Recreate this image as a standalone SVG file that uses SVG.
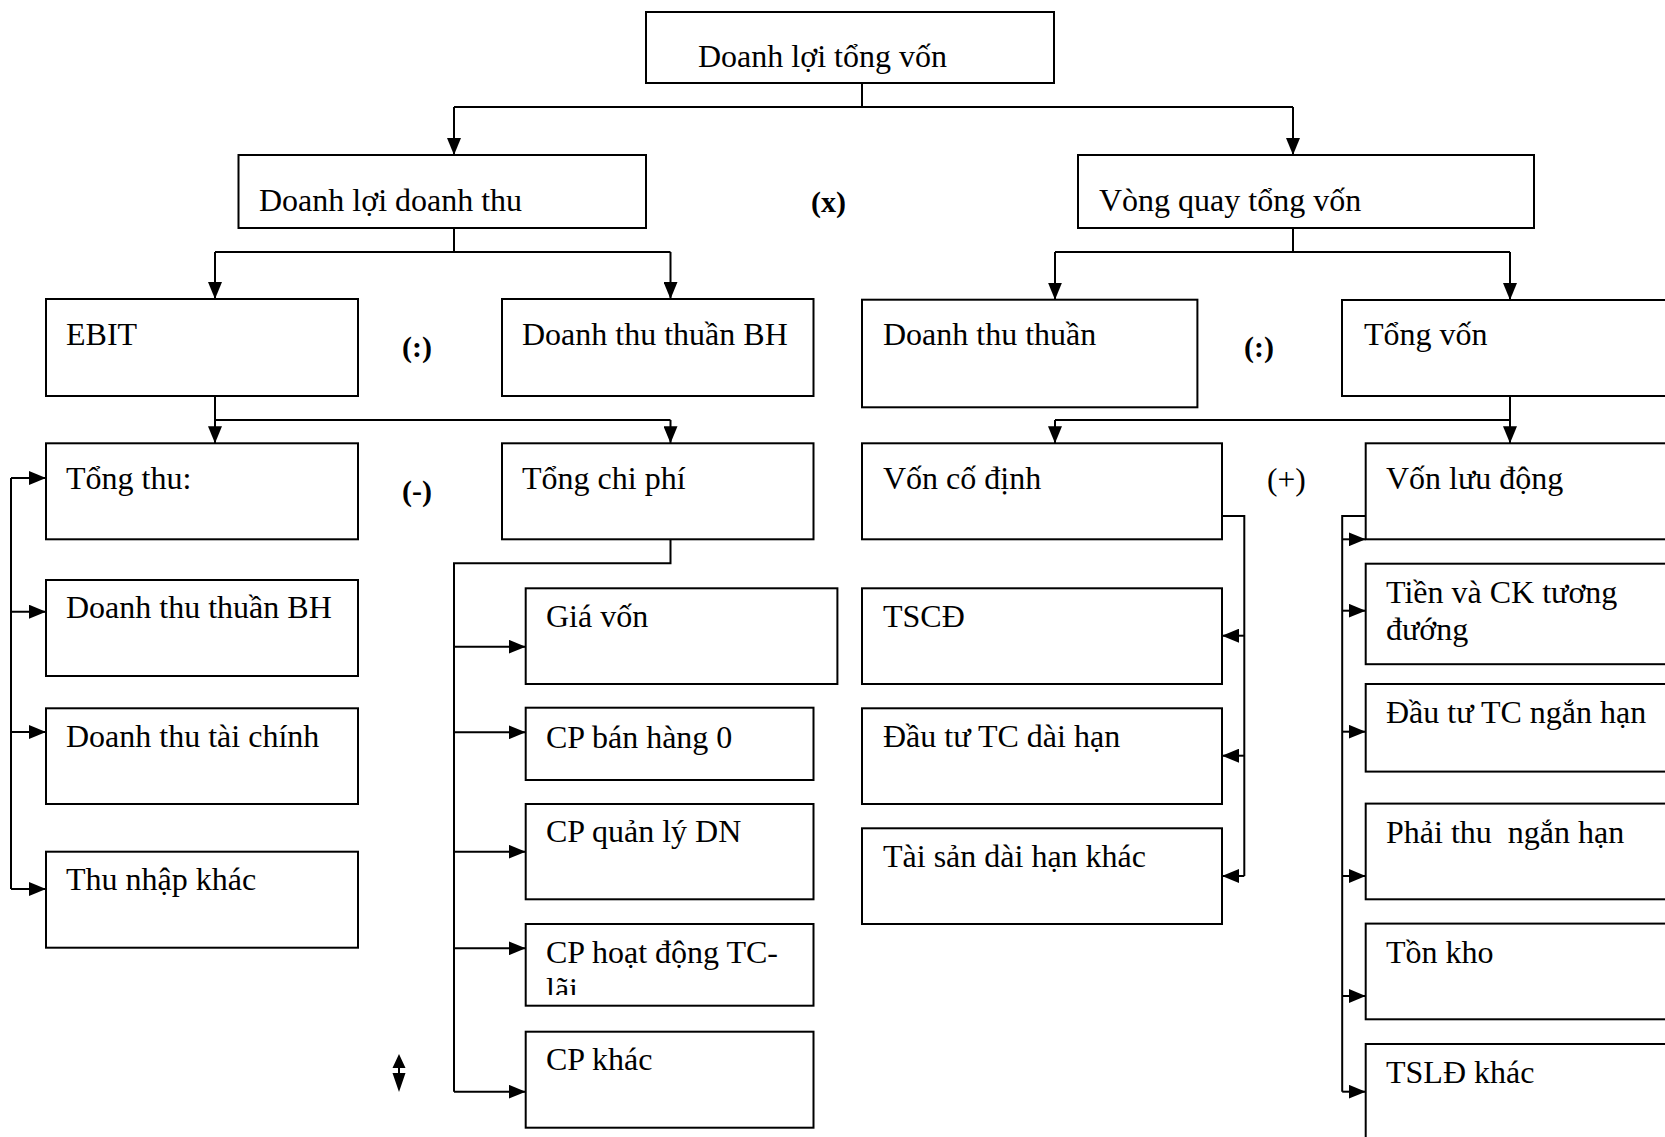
<svg xmlns="http://www.w3.org/2000/svg" width="1665" height="1137" viewBox="0 0 1665 1137">
<style>
.box{fill:#fff;stroke:#000;stroke-width:2}
.t{font-family:"Liberation Serif","Times New Roman",serif;font-size:32px;fill:#000;white-space:pre}
.op{font-family:"Liberation Serif","Times New Roman",serif;font-size:30px;fill:#000}
.b{font-weight:bold}
.c{fill:none;stroke:#000;stroke-width:2}
.ca{fill:none;stroke:#000;stroke-width:2;marker-end:url(#ah)}
</style>
<defs>
<marker id="ah" markerUnits="userSpaceOnUse" markerWidth="17" markerHeight="14" refX="17" refY="7" orient="auto">
<path d="M0,0 L17,7 L0,14 z" fill="#000"/>
</marker>
<clipPath id="clipHD"><rect x="525" y="924" width="290" height="71"/></clipPath>
</defs>
<rect width="1665" height="1137" fill="#fff"/>

<g id="connectors">
<path class="c" d="M862,83 V107 M454,107 H1293"/>
<path class="ca" d="M454,107 V155"/>
<path class="ca" d="M1293,107 V155"/>
<path class="c" d="M454,228 V252 M215,252 H670.5"/>
<path class="ca" d="M215,252 V299"/>
<path class="ca" d="M670.5,252 V299"/>
<path class="c" d="M1293,228 V252 M1055,252 H1510"/>
<path class="ca" d="M1055,252 V299.7"/>
<path class="ca" d="M1510,252 V300"/>
<path class="c" d="M215,396 V420 H670.5"/>
<path class="ca" d="M215,420 V443.3"/>
<path class="ca" d="M670.5,420 V443.3"/>
<path class="c" d="M1510,396 V420 H1055"/>
<path class="ca" d="M1055,420 V443.3"/>
<path class="ca" d="M1510,420 V443.3"/>
<path class="c" d="M670.5,539.3 V563.3 H454 V1091.7"/>
<path class="ca" d="M454,646.7 H525.7"/>
<path class="ca" d="M454,732.3 H525.7"/>
<path class="ca" d="M454,851.7 H525.7"/>
<path class="ca" d="M454,948.3 H525.7"/>
<path class="ca" d="M454,1091.7 H525.7"/>
<path class="c" d="M11,478 V889"/>
<path class="ca" d="M11,478 H46"/>
<path class="ca" d="M11,611.7 H46"/>
<path class="ca" d="M11,732 H46"/>
<path class="ca" d="M11,889 H46"/>
<path class="c" d="M1222,516 H1244.3 V876"/>
<path class="ca" d="M1244.3,635.7 H1222"/>
<path class="ca" d="M1244.3,755.7 H1222"/>
<path class="ca" d="M1244.3,876 H1222"/>
<path class="c" d="M1365.7,516 H1342.2 V1091.7"/>
<path class="ca" d="M1342.2,539.3 H1365.7"/>
<path class="ca" d="M1342.2,610.7 H1365.7"/>
<path class="ca" d="M1342.2,731.7 H1365.7"/>
<path class="ca" d="M1342.2,876 H1365.7"/>
<path class="ca" d="M1342.2,996 H1365.7"/>
<path class="ca" d="M1342.2,1091.7 H1365.7"/>
<path d="M399,1054 L405.5,1068 L392.5,1068 z M399,1092 L405.5,1073 L392.5,1073 z" fill="#000"/>
<path class="c" d="M399,1067 V1074"/>
</g>

<g id="n-doanh-loi-tong-von"><rect class="box" x="646" y="12" width="408" height="71"/><text class="t" x="698" y="67">Doanh lợi tổng vốn</text></g>
<g id="n-doanh-loi-doanh-thu"><rect class="box" x="238.5" y="155" width="407.5" height="73"/><text class="t" x="259" y="211">Doanh lợi doanh thu</text></g>
<g id="n-vong-quay"><rect class="box" x="1078" y="155" width="456" height="73"/><text class="t" x="1099" y="211">Vòng quay tổng vốn</text></g>
<g id="n-ebit"><rect class="box" x="46" y="299" width="312" height="97"/><text class="t" x="66" y="345">EBIT</text></g>
<g id="n-dtt-bh"><rect class="box" x="502" y="299" width="311.5" height="97"/><text class="t" x="522" y="345">Doanh thu thuần BH</text></g>
<g id="n-dtt"><rect class="box" x="862" y="299.7" width="335.4" height="107.6"/><text class="t" x="883" y="345">Doanh thu thuần</text></g>
<g id="n-tong-von"><rect class="box" x="1342" y="300" width="400" height="96"/><text class="t" x="1364" y="345">Tổng vốn</text></g>
<g id="n-tong-thu"><rect class="box" x="46" y="443.3" width="312" height="96"/><text class="t" x="66" y="489">Tổng thu:</text></g>
<g id="n-tong-chi-phi"><rect class="box" x="502" y="443.3" width="311.5" height="96"/><text class="t" x="522" y="489">Tổng chi phí</text></g>
<g id="n-von-co-dinh"><rect class="box" x="862" y="443.3" width="360" height="96"/><text class="t" x="883" y="489">Vốn cố định</text></g>
<g id="n-von-luu-dong"><rect class="box" x="1365.7" y="443.3" width="400" height="96"/><text class="t" x="1386" y="489">Vốn lưu động</text></g>

<g id="n-dtt-bh-2"><rect class="box" x="46" y="580" width="312" height="96"/><text class="t" x="66" y="618">Doanh thu thuần BH</text></g>
<g id="n-dt-tai-chinh"><rect class="box" x="46" y="708.3" width="312" height="95.7"/><text class="t" x="66" y="747">Doanh thu tài chính</text></g>
<g id="n-thu-nhap-khac"><rect class="box" x="46" y="851.7" width="312" height="96"/><text class="t" x="66" y="890">Thu nhập khác</text></g>

<g id="n-gia-von"><rect class="box" x="525.7" y="588.3" width="311.7" height="95.7"/><text class="t" x="546" y="627">Giá vốn</text></g>
<g id="n-cp-ban-hang"><rect class="box" x="525.7" y="707.7" width="287.8" height="72.3"/><text class="t" x="546" y="748">CP bán hàng 0</text></g>
<g id="n-cp-quan-ly"><rect class="box" x="525.7" y="804" width="287.8" height="95.3"/><text class="t" x="546" y="842">CP quản lý DN</text></g>
<g id="n-cp-hoat-dong"><rect class="box" x="525.7" y="924" width="287.8" height="81.7"/><g clip-path="url(#clipHD)"><text class="t" x="546" y="963">CP hoạt động TC-</text><text class="t" x="546" y="1000">lãi</text></g></g>
<g id="n-cp-khac"><rect class="box" x="525.7" y="1031.7" width="287.8" height="96"/><text class="t" x="546" y="1070">CP khác</text></g>

<g id="n-tscd"><rect class="box" x="862" y="588.3" width="360" height="95.7"/><text class="t" x="883" y="627">TSCĐ</text></g>
<g id="n-dau-tu-dai-han"><rect class="box" x="862" y="708.3" width="360" height="95.7"/><text class="t" x="883" y="747">Đầu tư TC dài hạn</text></g>
<g id="n-tai-san-khac"><rect class="box" x="862" y="828.3" width="360" height="95.7"/><text class="t" x="883" y="867">Tài sản dài hạn khác</text></g>

<g id="n-tien"><rect class="box" x="1365.7" y="563.7" width="400" height="100.5"/><text class="t" x="1386" y="603">Tiền và CK tương</text><text class="t" x="1386" y="640">đướng</text></g>
<g id="n-dau-tu-ngan-han"><rect class="box" x="1365.7" y="684" width="400" height="87.6"/><text class="t" x="1386" y="723">Đầu tư TC ngắn hạn</text></g>
<g id="n-phai-thu"><rect class="box" x="1365.7" y="803.6" width="400" height="95.7"/><text class="t" x="1386" y="843">Phải thu  ngắn hạn</text></g>
<g id="n-ton-kho"><rect class="box" x="1365.7" y="923.6" width="400" height="95.7"/><text class="t" x="1386" y="963">Tồn kho</text></g>
<g id="n-tsld-khac"><rect class="box" x="1365.7" y="1044" width="400" height="120"/><text class="t" x="1386" y="1083">TSLĐ khác</text></g>

<g id="operators">
<text class="op b" x="811" y="212">(x)</text>
<text class="op b" x="402" y="357">(:)</text>
<text class="op b" x="1244" y="357">(:)</text>
<text class="op b" x="402" y="501">(-)</text>
<text class="op" x="1267" y="490" style="font-size:31.5px">(+)</text>
</g>
</svg>
